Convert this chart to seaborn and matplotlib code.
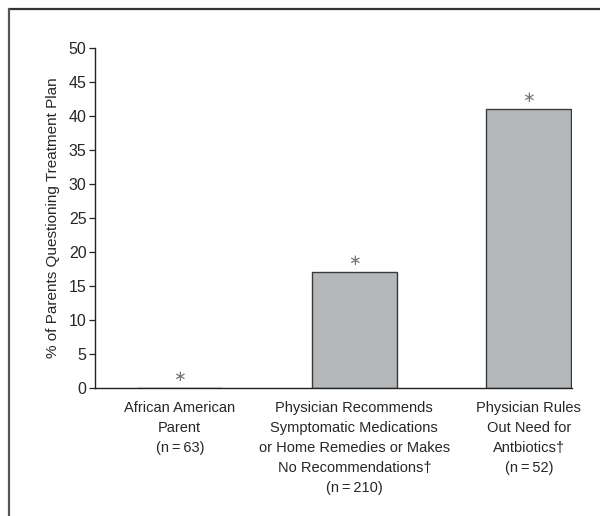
import matplotlib
matplotlib.use("Agg")
import matplotlib.pyplot as plt
import matplotlib.lines as mlines
import pandas as pd
import seaborn as sns

categories = [
    "African American\nParent\n(n\u2009=\u200963)",
    "Physician Recommends\nSymptomatic Medications\nor Home Remedies or Makes\nNo Recommendations\u2020\n(n\u2009=\u2009210)",
    "Physician Rules\nOut Need for\nAntbiotics\u2020\n(n\u2009=\u200952)",
]
values = [0, 17, 41]
y_ticks = [0, 5, 10, 15, 20, 25, 30, 35, 40, 45, 50]

sns.set_style("white")
plt.rcParams['font.family'] = ['Liberation Sans', 'DejaVu Sans']

df = pd.DataFrame({"group": categories, "pct": values})

fig = plt.figure(figsize=(6.0, 5.16), dpi=100)
ax = fig.add_axes([0.158, 0.248, 0.795, 0.659])

sns.barplot(data=df, x="group", y="pct", color="#b5b8bb", saturation=1,
            width=0.487, edgecolor="#3a3a3a", linewidth=1.0, ax=ax)

# asterisks above each bar
for i, v in enumerate(values):
    ax.annotate("\u2217", (i, v), xytext=(0, 8.5), textcoords="offset points",
                ha="center", va="center", fontsize=11, color="#777777",
                family="DejaVu Sans")

ax.set_xlim(-0.487, 2.246)
ax.set_ylim(0, 50)
ax.set_yticks(y_ticks)
ax.tick_params(axis="y", direction="out", length=4, width=0.9, color="#222222",
               labelsize=11.5, pad=2, left=True)
ax.tick_params(axis="x", length=0, labelsize=10.5, pad=9)
for lbl in ax.get_xticklabels():
    lbl.set_linespacing(1.55)
ax.set_xlabel("")
ax.set_ylabel("% of Parents Questioning Treatment Plan", fontsize=11, labelpad=6)

sns.despine(ax=ax)
for s in ("left", "bottom"):
    ax.spines[s].set_color("#222222")
    ax.spines[s].set_linewidth(1.0)

# frame: top and left only
y_top = 1 - 9 / 516
x_left = 9 / 600
fig.add_artist(mlines.Line2D([x_left, 1], [y_top, y_top], transform=fig.transFigure,
                             color="#333333", linewidth=1.6))
fig.add_artist(mlines.Line2D([x_left, x_left], [0, y_top], transform=fig.transFigure,
                             color="#555555", linewidth=1.6))

fig.savefig("out.png", dpi=100)
